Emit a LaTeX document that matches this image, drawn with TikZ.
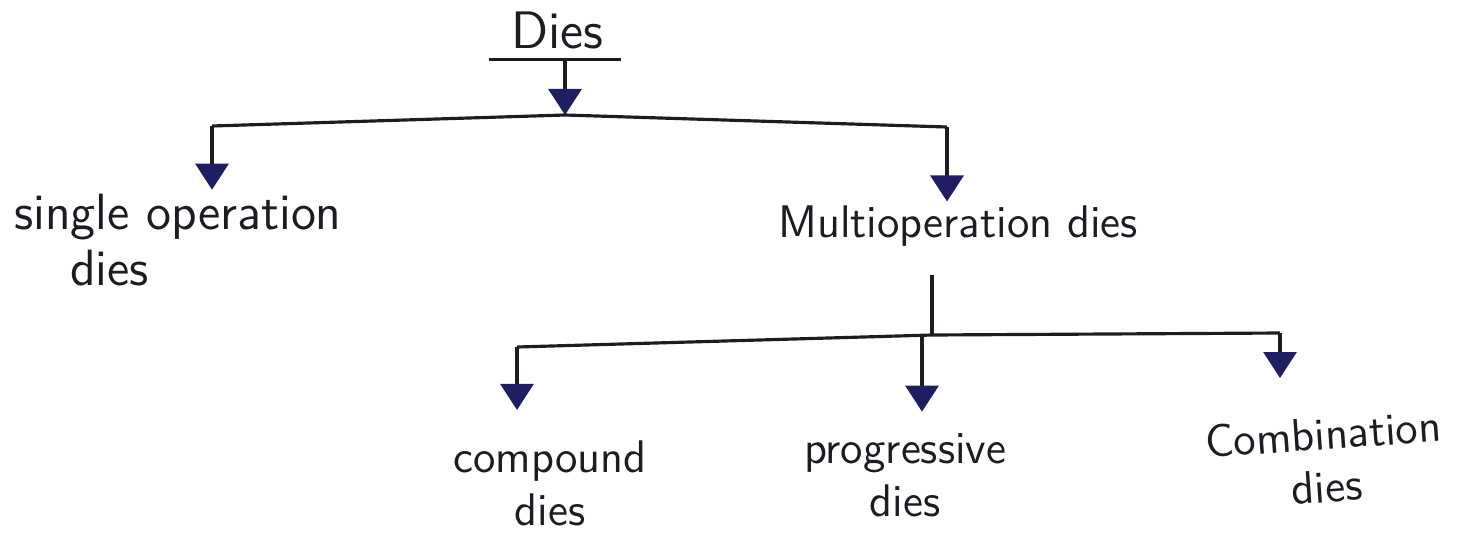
\documentclass[tikz,border=0pt]{standalone}
\usepackage{tikz}
\usetikzlibrary{arrows.meta, positioning}
\definecolor{ink}{RGB}{28, 28, 34}
\definecolor{tipblue}{RGB}{32, 30, 98}
\tikzset{
  font=\sffamily\fontsize{13}{15}\selectfont,
  termnode/.style={text=ink, align=center, inner sep=1pt},
  treeline/.style={draw=ink, line width=0.9pt},
  treearrow/.style={
    treeline, -{Triangle[width=3.3mm, length=2.6mm, color=tipblue]}
  }
}

\begin{document}
\begin{tikzpicture}[x=0.01cm, y=-0.01cm]
  \fill[white] (0,0) rectangle (1467,533);
  \useasboundingbox (0,0) rectangle (1467,533);

  % Root
  \node[termnode, font=\sffamily\fontsize{15}{18}\selectfont, anchor=base] (dies) at (557,48) {Dies};
  \draw[treeline] ([xshift=-5pt, yshift=-2pt]dies.south west) -- ([xshift=4pt, yshift=-2pt]dies.south east);

  % First split
  \coordinate (splitA) at (565,115);
  \coordinate (splitAleft) at (212,126);
  \coordinate (splitAright) at (947,127);

  \node[termnode, align=left, anchor=west, font=\sffamily\fontsize{14.5}{16}\selectfont] (single) at (10,240) {single operation\\\hspace*{1.1em}dies};
  \node[termnode] (multi) at (958,226) {Multioperation dies};

  % Second split
  \coordinate (splitB) at (932,335);
  \coordinate (splitBleft) at (517,347);
  \coordinate (splitBmid) at (922,336);
  \coordinate (splitBright) at (1280,333);

  \node[termnode] (compound) at (550,483) {compound\\dies};
  \node[termnode] (progressive) at (905,475) {progressive\\dies};
  \node[termnode, rotate=4] (combination) at (1325,460) {Combination\\dies};

  % Connectors
  \draw[treearrow] ([yshift=-2pt]dies.south -| splitA) -- (splitA);
  \draw[treeline] (splitAleft) -- (splitA) -- (splitAright);
  \draw[treearrow] (splitAleft) -- (splitAleft |- single.north);
  \draw[treearrow] (splitAright) -- (splitAright |- multi.north);

  \draw[treeline] (multi.south -| splitB) ++(0,24) -- (splitB);
  \draw[treeline] (splitBleft) -- (splitB) -- (splitBright);
  \draw[treearrow, shorten >=7.5pt] (splitBleft) -- (splitBleft |- compound.north);
  \draw[treearrow, shorten >=5pt] (splitBmid) -- (splitBmid |- progressive.north);
  \draw[treearrow, shorten >=10pt] (splitBright) -- (splitBright |- combination.north);
\end{tikzpicture}
\end{document}
